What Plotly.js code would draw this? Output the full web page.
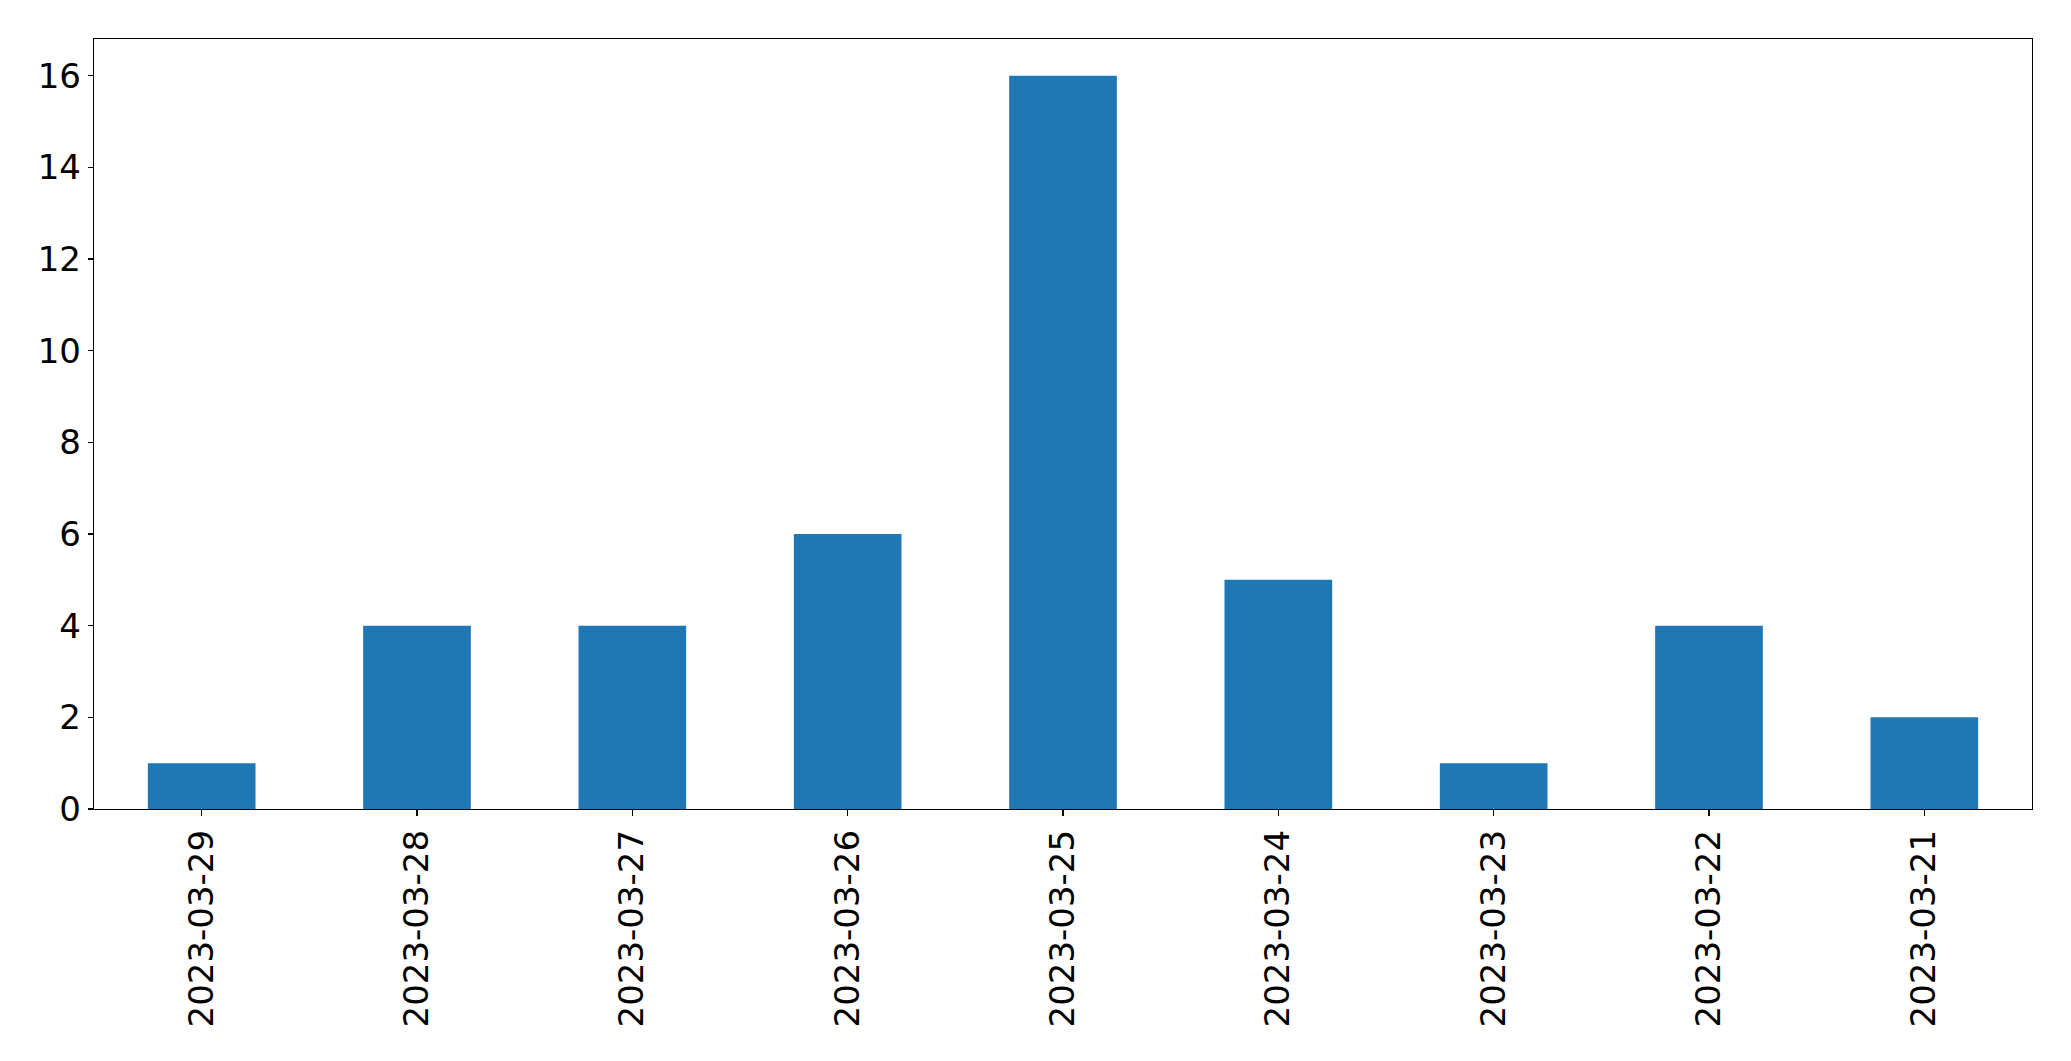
<!DOCTYPE html>
<html>
<head>
<meta charset="utf-8">
<script src="https://cdn.plot.ly/plotly-3.0.1.min.js"></script>
<style>html,body{margin:0;padding:0;background:#fff;}#chart{width:2071px;height:1061px;}</style>
</head>
<body>
<div id="chart"></div>
<script>
const dates = ["2023-03-29","2023-03-28","2023-03-27","2023-03-26","2023-03-25","2023-03-24","2023-03-23","2023-03-22","2023-03-21"];
const counts = [1, 4, 4, 6, 16, 5, 1, 4, 2];
const yTicks = [0, 2, 4, 6, 8, 10, 12, 14, 16];

const trace = {
  type: 'bar',
  x: dates,
  y: counts,
  width: 0.5,
  marker: {color: '#1f77b4', line: {width: 0}},
  hoverinfo: 'x+y'
};

const layout = {
  width: 2071,
  height: 1061,
  margin: {l: 94, r: 39, t: 39, b: 252, pad: 0},
  paper_bgcolor: '#ffffff',
  plot_bgcolor: '#ffffff',
  showlegend: false,
  font: {family: 'DejaVu Sans, sans-serif', size: 34, color: '#000000'},
  xaxis: {
    type: 'category',
    range: [-0.5, 8.5],
    tickangle: -90,
    ticks: 'outside',
    ticklen: 6,
    tickwidth: 1.3,
    tickcolor: '#000',
    showline: true,
    linecolor: '#000',
    linewidth: 1.3,
    mirror: true,
    showgrid: false,
    zeroline: false,
    tickfont: {family: 'DejaVu Sans, sans-serif', size: 34, color: '#000'}
  },
  yaxis: {
    range: [0, 16.8],
    tickmode: 'array',
    tickvals: yTicks,
    ticktext: yTicks.map(String),
    ticks: 'outside',
    ticklen: 5,
    tickwidth: 1.3,
    tickcolor: '#000',
    showline: true,
    linecolor: '#000',
    linewidth: 1.3,
    mirror: true,
    showgrid: false,
    zeroline: false,
    tickfont: {family: 'DejaVu Sans, sans-serif', size: 34, color: '#000'}
  }
};

Plotly.newPlot('chart', [trace], layout, {displayModeBar: false, staticPlot: true});
</script>
</body>
</html>
